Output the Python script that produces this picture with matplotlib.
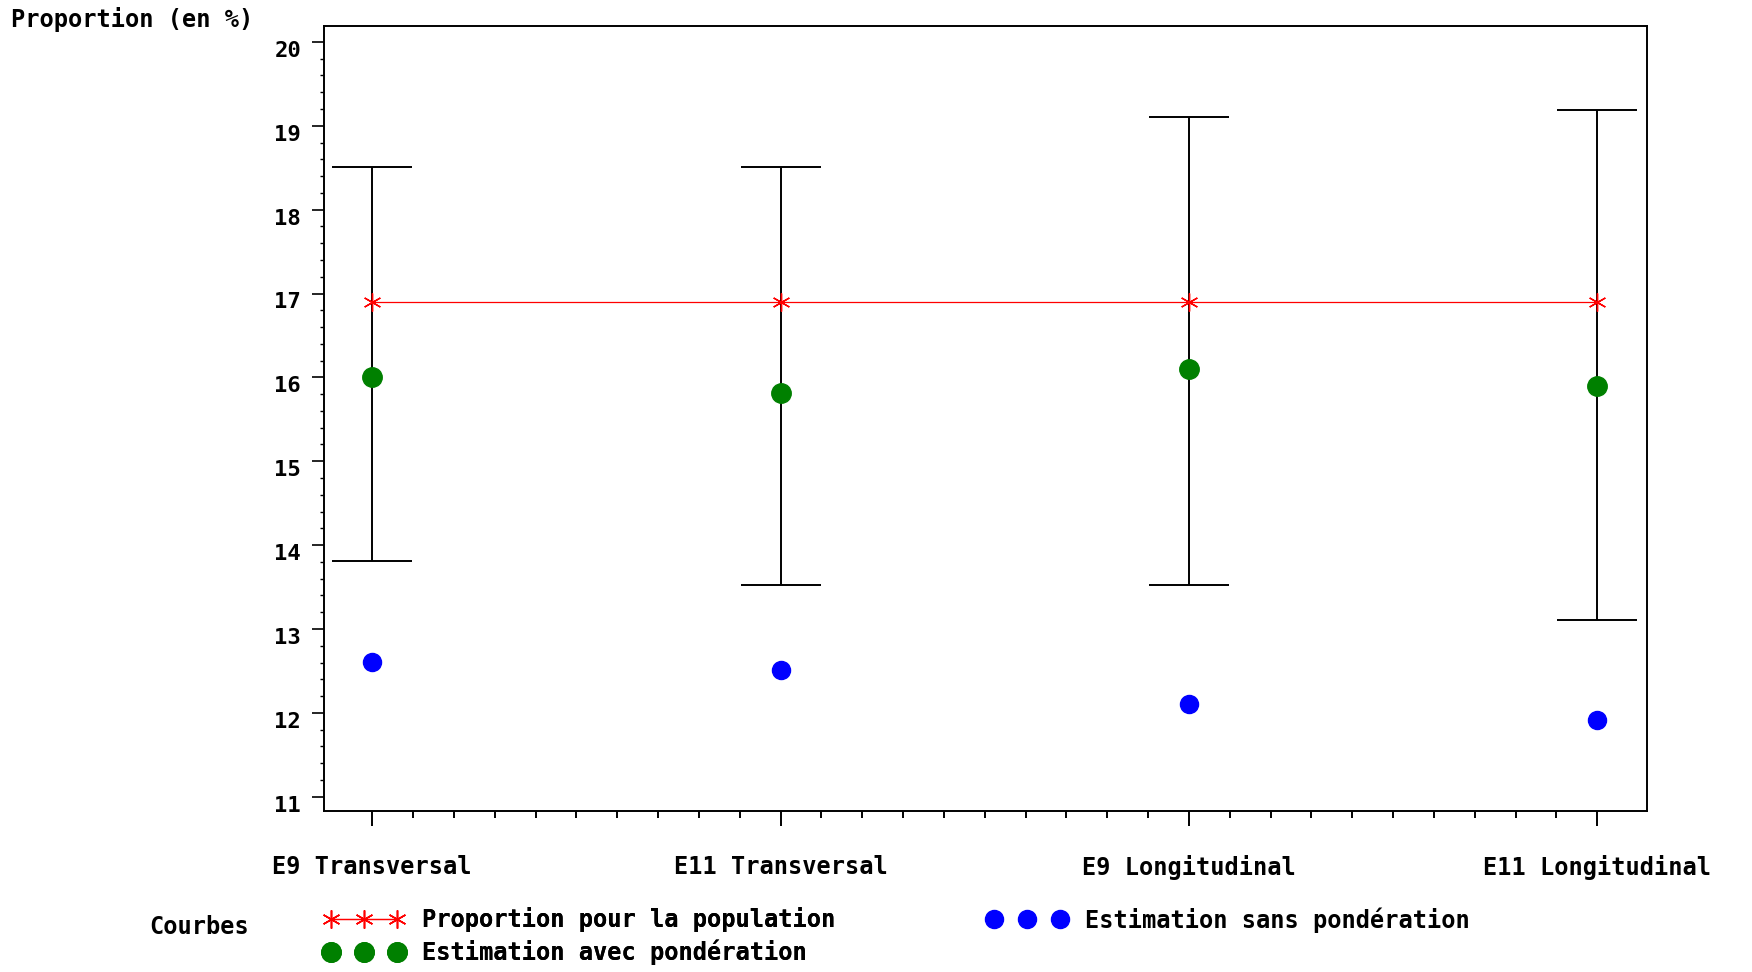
import numpy as np
import matplotlib
matplotlib.use("Agg")
import matplotlib.pyplot as plt
import matplotlib.transforms as mtransforms
from matplotlib.lines import Line2D
from matplotlib.ticker import FixedLocator

# Data
categories = ["E9 Transversal", "E11 Transversal", "E9 Longitudinal", "E11 Longitudinal"]
population = [16.9, 16.9, 16.9, 16.9]
with_weight = [16.01, 15.81, 16.10, 15.90]
ci_low = [13.81, 13.52, 13.52, 13.11]
ci_high = [18.51, 18.51, 19.11, 19.19]
without_weight = [12.61, 12.51, 12.11, 11.91]

plt.rcParams['font.family'] = ['DejaVu Sans Mono']
plt.rcParams['font.weight'] = 'bold'
FS = 17
FS_TICK = 16

fig = plt.figure(figsize=(17.52, 9.72), dpi=100)
ax = fig.add_axes([324 / 1752, 1 - 811 / 972, 1323 / 1752, 785 / 972])

x = np.arange(len(categories))
green = np.array(with_weight)
yerr = [green - np.array(ci_low), np.array(ci_high) - green]

# confidence intervals
ax.errorbar(x, green, yerr=yerr, fmt='none', ecolor='black', elinewidth=1.4,
            capsize=29, capthick=1.4, zorder=2)

star = (6, 2, 0)
ax.plot(x, population, color='red', linewidth=0.9, marker=star, markersize=13,
        markeredgewidth=1.0, zorder=3)
ax.plot(x, with_weight, linestyle='none', marker='o', markersize=14,
        color='#008000', zorder=4)
ax.plot(x, without_weight, linestyle='none', marker='o', markersize=13,
        color='#0000ff', zorder=4)

ax.set_xlim(-0.118, 3.122)
ax.set_ylim(10.83, 20.19)
ax.set_xticks(x)
ax.set_xticklabels(categories, fontsize=FS, fontweight='bold')
minor_x = [v for v in np.round(np.arange(0, len(categories) - 1 + 0.01, 0.1), 2)
           if abs(v - round(v)) > 1e-6]
ax.xaxis.set_minor_locator(FixedLocator(minor_x))
ax.set_yticks(np.arange(11, 21))
ax.set_yticklabels([str(v) for v in range(11, 21)], fontsize=FS_TICK, fontweight='bold')
ax.yaxis.set_minor_locator(FixedLocator(np.round(np.arange(11, 20.01, 0.2), 2)))

ax.tick_params(axis='x', which='major', length=11, width=1.4, pad=21)
ax.tick_params(axis='x', which='minor', length=5, width=1.4)
ax.tick_params(axis='y', which='major', length=8.5, width=1.2, pad=8)
ax.tick_params(axis='y', which='minor', length=3, width=1.0)
for s in ax.spines.values():
    s.set_linewidth(1.4)

# y tick labels sit a little below their tick marks
shift = mtransforms.ScaledTranslation(0, -5 / 72, fig.dpi_scale_trans)
for lab in ax.get_yticklabels():
    lab.set_transform(lab.get_transform() + shift)

fig.text(11 / 1752, 1 - 19 / 972, "Proportion (en %)", fontsize=FS,
         fontweight='bold', ha='left', va='center')

# legend
fig.text(149 / 1752, 1 - 927 / 972, "Courbes", fontsize=FS, fontweight='bold',
         ha='left', va='center')

h_pop = Line2D([], [], color='red', linewidth=0.9, marker=star, markersize=13,
               markeredgewidth=1.0)
h_with = Line2D([], [], linestyle='none', marker='o', markersize=14, color='#008000')
h_without = Line2D([], [], linestyle='none', marker='o', markersize=13, color='#0000ff')

leg_kw = dict(frameon=False, numpoints=3, handlelength=3.4, handletextpad=0.75,
              labelspacing=0.32, borderpad=0, borderaxespad=0, loc='upper left',
              prop={'size': FS, 'weight': 'bold'})
leg1 = fig.legend([h_pop, h_with], ["Proportion pour la population",
                                     "Estimation avec pondération"],
                  bbox_to_anchor=(324 / 1752, 1 - 907 / 972), **leg_kw)
fig.add_artist(leg1)
fig.legend([h_without], ["Estimation sans pondération"],
           bbox_to_anchor=(987 / 1752, 1 - 907 / 972), **leg_kw)

fig.savefig("out.png", dpi=100)
